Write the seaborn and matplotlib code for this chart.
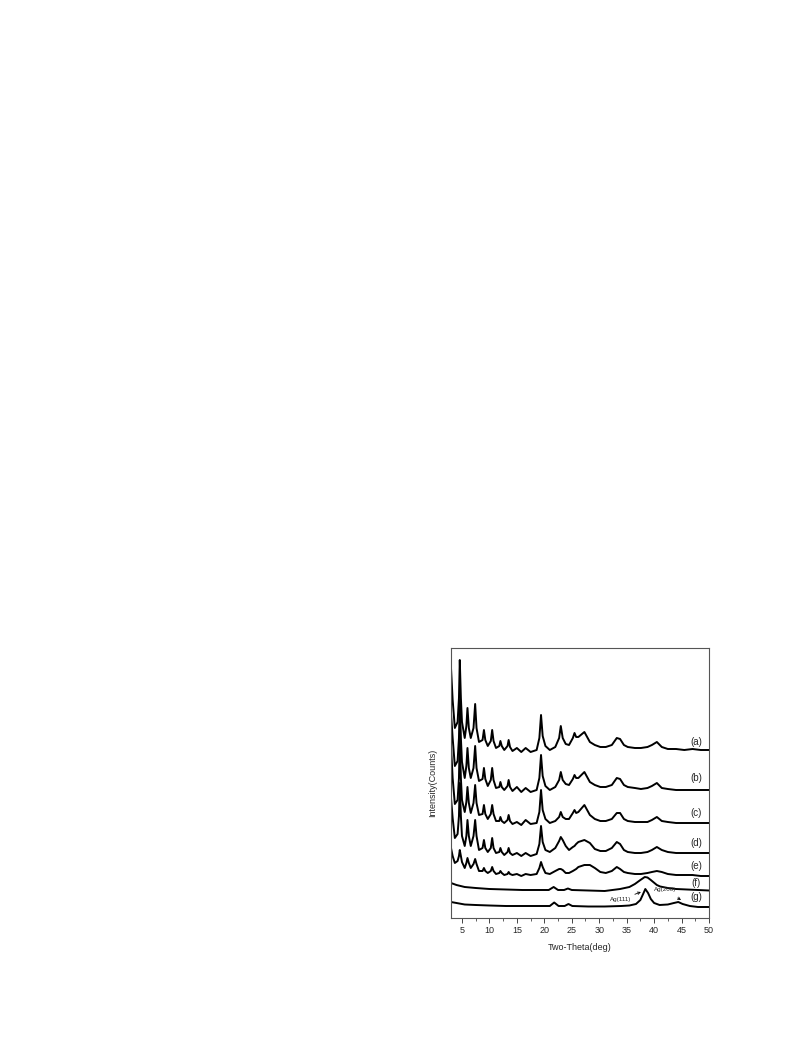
import matplotlib
matplotlib.use("Agg")
import matplotlib.pyplot as plt
from matplotlib.ticker import MultipleLocator, NullLocator
import seaborn as sns

# Shared 2-theta grid for the layered samples (a)-(e)
two_theta = [3.0, 3.3, 3.7, 4.2, 4.45, 4.6, 4.8, 5.0, 5.5, 5.8,
             6.0, 6.25, 6.6, 7.1, 7.4, 7.65, 8.1, 8.75, 9.0, 9.25,
             9.7, 10.25, 10.5, 10.75, 11.2, 11.8, 12.0, 12.25, 12.7, 13.3,
             13.5, 13.75, 14.2, 15.0, 15.8, 16.6, 17.5, 18.6, 19.1, 19.4,
             19.7, 20.2, 21.0, 22.0, 22.7, 23.0, 23.35, 23.9, 24.5, 25.2,
             25.5, 25.8, 26.2, 27.3, 28.3, 29.2, 30.2, 31.2, 32.3, 33.2,
             33.8, 34.5, 35.2, 36.5, 37.6, 38.8, 39.6, 40.5, 41.4, 42.5,
             44.0, 45.5, 47.0, 48.5, 50.0]

int_a = [250, 218, 190, 196, 220, 258, 220, 196, 180, 192,
         210, 190, 180, 190, 214, 190, 176, 178, 188, 178,
         172, 177, 188, 177, 170, 172, 177, 172, 168, 172,
         178, 171, 167, 170, 166, 170, 166, 168, 180, 203,
         182, 172, 168, 171, 180, 192, 180, 174, 173, 180,
         185, 181, 181, 186, 176, 173, 171, 171, 173, 180,
         179, 173, 171, 170, 170, 171, 173, 176, 171, 169,
         169, 168, 169, 168, 168]

int_b = [205, 180, 152, 157, 180, 218, 180, 156, 140, 152,
         170, 150, 140, 150, 172, 150, 137, 139, 150, 139,
         132, 138, 150, 138, 130, 131, 136, 131, 128, 132,
         138, 131, 127, 131, 126, 130, 126, 128, 140, 163,
         142, 132, 128, 131, 138, 146, 138, 134, 133, 139,
         143, 140, 140, 146, 136, 133, 131, 131, 133, 140,
         139, 133, 131, 130, 129, 130, 132, 135, 130, 129,
         128, 128, 128, 128, 128]

int_c = [172, 140, 114, 118, 140, 180, 140, 118, 106, 116,
         131, 115, 105, 115, 133, 115, 103, 104, 113, 104,
         99, 104, 113, 104, 97, 97, 101, 97, 95, 98,
         103, 97, 94, 96, 93, 98, 94, 95, 106, 128,
         108, 99, 95, 97, 101, 106, 101, 99, 99, 105,
         108, 105, 106, 113, 103, 99, 97, 97, 99, 105,
         105, 99, 97, 96, 96, 96, 98, 101, 97, 96,
         95, 95, 95, 95, 95]

int_d = [120, 100, 80, 84, 102, 135, 102, 82, 72, 82,
         98, 82, 72, 82, 98, 82, 68, 70, 78, 70,
         66, 70, 80, 70, 65, 66, 70, 66, 63, 66,
         70, 65, 63, 65, 62, 65, 62, 64, 74, 92,
         76, 68, 66, 70, 77, 81, 78, 72, 68, 71,
         72, 74, 76, 78, 75, 69, 67, 67, 70, 76,
         74, 68, 66, 65, 65, 66, 68, 71, 68, 66,
         65, 65, 65, 65, 65]

int_e = [70, 62, 55, 57, 62, 68, 62, 56, 50, 55,
         60, 55, 50, 54, 59, 54, 47, 47, 50, 47,
         45, 47, 51, 47, 44, 45, 47, 45, 43, 44,
         46, 44, 43, 44, 42, 44, 43, 44, 50, 56,
         51, 45, 44, 47, 49, 49, 48, 45, 45, 47,
         48, 49, 51, 53, 53, 50, 46, 45, 47, 51,
         49, 46, 45, 44, 44, 45, 46, 47, 46, 44,
         43, 43, 43, 42, 42]

# Silver-containing samples (f) and (g)
two_theta_f = [3.0, 4.0, 5.5, 7.5, 10, 13, 16, 19, 20.8, 21.7, 22.5, 23.6,
               24.3, 25.0, 28, 31, 33.8, 35.5, 36.5, 37.5, 38.3, 38.8, 39.4,
               40.5, 41.1, 42.5, 44, 46, 48, 50]
int_f = [35, 33, 31, 30, 29, 28.5, 28, 28, 28, 31, 28, 28,
         29.5, 28, 27.5, 27, 29, 31, 34, 38, 41, 40.5, 38,
         33, 31.5, 30, 29, 28.5, 28, 27.5]

two_theta_g = [3.0, 4.0, 5.5, 7.5, 10, 13, 16, 19, 21.0, 21.8, 22.6, 23.7,
               24.4, 25.1, 28, 31, 34, 35.5, 36.7, 37.5, 38.0, 38.4, 38.9,
               39.4, 40.0, 41.0, 42.5, 43.6, 44.4, 45.2, 46.5, 48, 50]
int_g = [16, 15, 13.5, 13, 12.5, 12, 12, 12, 12, 15.5, 12, 12,
         14, 12, 11.5, 11.5, 12, 12.5, 14, 18, 24, 29, 25,
         19, 15, 13, 13.5, 15, 16, 14, 12, 11, 11]

curve_labels = ["(a)", "(b)", "(c)", "(d)", "(e)", "(f)", "(g)"]
label_y = [176, 140, 105, 75, 52, 35, 21]

sns.set_style("ticks")
plt.rcParams['font.family'] = ['Liberation Sans', 'DejaVu Sans']

fig = plt.figure(figsize=(7.93, 10.59), dpi=100)
ax = fig.add_axes([451 / 793, 1 - 918 / 1059, 258 / 793, 270 / 1059])

curves = [(two_theta, int_a), (two_theta, int_b), (two_theta, int_c),
          (two_theta, int_d), (two_theta, int_e),
          (two_theta_f, int_f), (two_theta_g, int_g)]
for xs, ys in curves:
    sns.lineplot(x=xs, y=ys, ax=ax, color="black", lw=1.4,
                 estimator=None, sort=False)

for lab, ly in zip(curve_labels, label_y):
    ax.text(47.7, ly, lab, fontsize=7, ha="center", va="center")

# Ag reflections
ax.annotate("Ag(111)", xy=(37.6, 26), xytext=(35.9, 18.5), fontsize=4.5,
            ha="right", va="center",
            arrowprops=dict(arrowstyle="->", lw=0.6, color="black",
                            shrinkA=0, shrinkB=0))
ax.annotate("Ag(200)", xy=(44.9, 18), xytext=(42.0, 28), fontsize=4.5,
            ha="center", va="center",
            arrowprops=dict(arrowstyle="->", lw=0.6, color="black",
                            shrinkA=3, shrinkB=0))

ax.set_xlim(3, 50)
ax.set_ylim(0, 270)
ax.xaxis.set_major_locator(MultipleLocator(5))
ax.xaxis.set_minor_locator(MultipleLocator(2.5))
ax.yaxis.set_major_locator(NullLocator())
ax.tick_params(axis="x", which="major", direction="out", length=3.5,
               width=0.7, labelsize=6.5, pad=2, color="#444444")
ax.tick_params(axis="x", which="minor", direction="out", length=2,
               width=0.6, color="#444444")

for sp in ax.spines.values():
    sp.set_visible(True)
    sp.set_color("#555555")
    sp.set_linewidth(0.8)

ax.set_xlabel("Two-Theta(deg)", fontsize=6.5, labelpad=6)
ax.set_ylabel("Intensity(Counts)", fontsize=6.5, labelpad=10)

fig.savefig("out.png", dpi=100)
